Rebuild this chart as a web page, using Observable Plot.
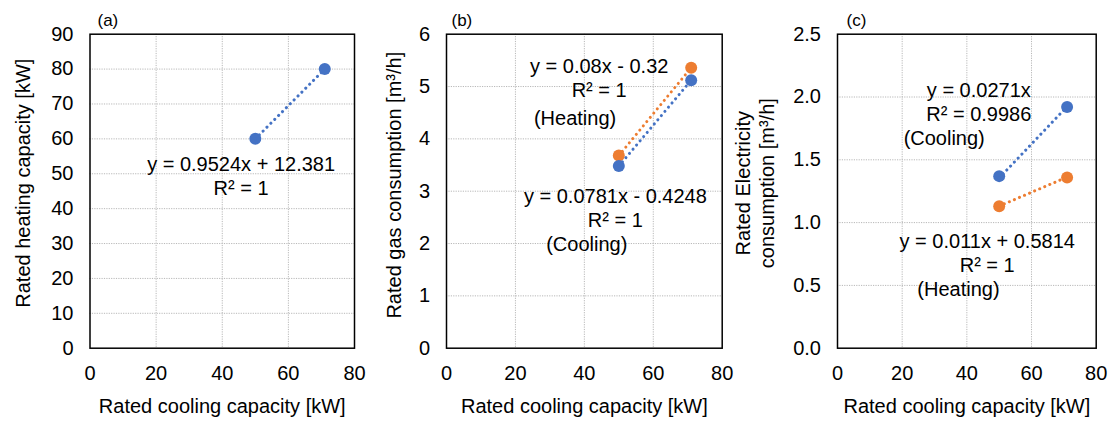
<!DOCTYPE html>
<html>
<head>
<meta charset="utf-8">
<script src="https://cdn.jsdelivr.net/npm/d3@7"></script>
<script src="https://cdn.jsdelivr.net/npm/@observablehq/plot@0.6"></script>
<style>
  html, body { margin: 0; padding: 0; background: #fff; }
  #root { position: relative; width: 1112px; height: 421px; overflow: hidden; }
  #root svg { position: absolute; top: 0; }
</style>
</head>
<body>
<div id="root"></div>
<script>
// ---- data ----
const capacity = [50, 71];                 // rated cooling capacity [kW]
const heatingCapacity = [60, 80];          // panel (a)
const gasHeating = [3.68, 5.36];           // panel (b) heating
const gasCooling = [3.48, 5.12];           // panel (b) cooling
const elecCooling = [1.37, 1.92];          // panel (c) cooling
const elecHeating = [1.13, 1.36];          // panel (c) heating

// trendline coefficients [slope, intercept]
const fitA = [0.9524, 12.381];
const fitBHeat = [0.08, -0.32];
const fitBCool = [0.0781, -0.4248];
const fitCCool = [0.0271, 0];
const fitCHeat = [0.011, 0.5814];

// tick values
const xTicks = [0, 20, 40, 60, 80];
const yTicksA = [0, 10, 20, 30, 40, 50, 60, 70, 80, 90];
const yTicksB = [0, 1, 2, 3, 4, 5, 6];
const yTicksC = [0, 0.5, 1.0, 1.5, 2.0, 2.5];

// texts
const panelLabels = ["(a)", "(b)", "(c)"];
const xTitle = "Rated cooling capacity [kW]";
const yTitles = ["Rated heating capacity [kW]", "Rated gas consumption [m³/h]", "Rated Electricity\nconsumption [m³/h]"];
const eqA = "y = 0.9524x + 12.381\nR² = 1";
const eqBHeat = "y = 0.08x - 0.32\nR² = 1";
const eqBCool = "y = 0.0781x - 0.4248\nR² = 1";
const eqCCool = "y = 0.0271x\nR² = 0.9986";
const eqCHeat = "y = 0.011x + 0.5814\nR² = 1";
const tagHeat = "(Heating)";
const tagCool = "(Cooling)";

// ---- styling ----
const BLUE = "#4472C4";
const ORANGE = "#ED7D31";
const FONT = "'Liberation Sans', Arial, Helvetica, sans-serif";
const FS = 20;

const pts = (ys) => capacity.map((x, i) => ({x, y: ys[i]}));
const fit = ([m, b]) => capacity.map(x => ({x, y: m * x + b}));

function trend(data, color) {
  return Plot.line(data, {x: "x", y: "y", stroke: color, strokeWidth: 3,
    strokeDasharray: "0.1 5.4", strokeLinecap: "round"});
}
function dots(data, color) {
  return Plot.dot(data, {x: "x", y: "y", r: 6, fill: color, stroke: "none"});
}
function note(text, x, y) {
  return Plot.text([text], {x: () => x, y: () => y, text: d => d, textAnchor: "middle",
    lineAnchor: "middle", lineHeight: 1.2, fontSize: FS, fill: "#000"});
}

function panel({left, width, ml, mr, yDomain, yTicks, yFmt, label, labelDx, yTitle, yTitleDx, yTitleDy, extra}) {
  const p = Plot.plot({
    width, height: 421,
    marginLeft: ml, marginRight: mr, marginTop: 33.7, marginBottom: 73.3,
    style: {fontFamily: FONT, fontSize: FS + "px", color: "#000", background: "transparent", overflow: "visible"},
    x: {domain: [0, 80]},
    y: {domain: yDomain},
    marks: [
      Plot.gridX([20, 40, 60], {stroke: "#b8b8b8", strokeOpacity: 1, strokeDasharray: "1.2 1.2"}),
      Plot.gridY(yTicks.slice(1, -1), {stroke: "#b8b8b8", strokeOpacity: 1, strokeDasharray: "1.2 1.2"}),
      Plot.axisX(xTicks, {tickSize: 0, tickPadding: 18, fontSize: FS, fill: "#000", label: null}),
      Plot.axisY(yTicks, {tickSize: 0, tickPadding: 16.5, fontSize: FS, fill: "#000", label: null, tickFormat: yFmt}),
      Plot.frame({stroke: "#000", strokeWidth: 1.5}),
      Plot.text([xTitle], {frameAnchor: "bottom", dy: 58.5, text: d => d, lineAnchor: "middle", fontSize: FS, fill: "#000"}),
      Plot.text([yTitle], {frameAnchor: "left", dx: yTitleDx, dy: yTitleDy, rotate: -90, text: d => d,
        lineAnchor: "middle", textAnchor: "middle", lineHeight: 1.2, fontSize: FS, fill: "#000"}),
      Plot.text([label], {frameAnchor: "top-left", dx: labelDx, dy: -13.7, text: d => d,
        textAnchor: "start", lineAnchor: "middle", fontSize: 17, fill: "#000"}),
      ...extra
    ]
  });
  p.style.left = left + "px";
  document.getElementById("root").appendChild(p);
}

// panel (a)
panel({
  left: 0, width: 370, ml: 89.5, mr: 16, yDomain: [0, 90], yTicks: yTicksA, yFmt: d => String(d),
  label: panelLabels[0], labelDx: 7.5, yTitle: yTitles[0], yTitleDx: -67.5, yTitleDy: -8,
  extra: [
    dots(pts(heatingCapacity), BLUE),
    trend(fit(fitA), BLUE),
    note(eqA, 45.7, 49.5)
  ]
});

// panel (b)
panel({
  left: 370, width: 370, ml: 76, mr: 18.3, yDomain: [0, 6], yTicks: yTicksB, yFmt: d => String(d),
  label: panelLabels[1], labelDx: 5, yTitle: yTitles[1], yTitleDx: -53, yTitleDy: -6,
  extra: [
    dots(pts(gasHeating), ORANGE),
    dots(pts(gasCooling), BLUE),
    trend(fit(fitBHeat), ORANGE),
    trend(fit(fitBCool), BLUE),
    note(eqBHeat, 44.3, 5.18),
    note(tagHeat, 37.3, 4.41),
    note(eqBCool, 49.0, 2.69),
    note(tagCool, 40.7, 2.0)
  ]
});

// panel (c)
panel({
  left: 720, width: 392, ml: 117, mr: 16.3, yDomain: [0, 2.5], yTicks: yTicksC, yFmt: d => d.toFixed(1),
  label: panelLabels[2], labelDx: 9, yTitle: yTitles[2], yTitleDx: -83, yTitleDy: -8,
  extra: [
    dots(pts(elecCooling), BLUE),
    dots(pts(elecHeating), ORANGE),
    trend(fit(fitCCool), BLUE),
    trend(fit(fitCHeat), ORANGE),
    note(eqCCool, 43.7, 1.962),
    note(tagCool, 33.0, 1.68),
    note(eqCHeat, 46.3, 0.76),
    note(tagHeat, 37.4, 0.473)
  ]
});
</script>
</body>
</html>
